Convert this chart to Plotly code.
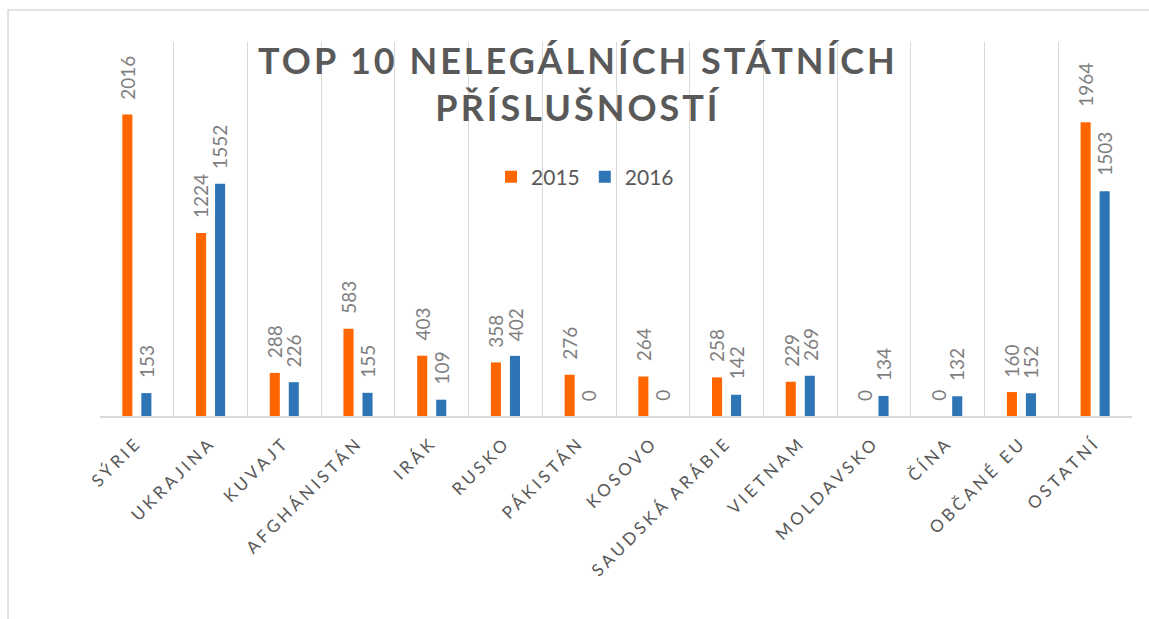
import plotly.graph_objects as go

categories = ["SÝRIE", "UKRAJINA", "KUVAJT", "AFGHÁNISTÁN", "IRÁK", "RUSKO", "PÁKISTÁN",
              "KOSOVO", "SAUDSKÁ ARÁBIE", "VIETNAM", "MOLDAVSKO", "ČÍNA", "OBČANÉ EU", "OSTATNÍ"]
values_2015 = [2016, 1224, 288, 583, 403, 358, 276, 264, 258, 229, 0, 0, 160, 1964]
values_2016 = [153, 1552, 226, 155, 109, 402, 0, 0, 142, 269, 134, 132, 152, 1503]
series_names = ["2015", "2016"]
title_text = "TOP 10 NELEGÁLNÍCH STÁTNÍCH<br>PŘÍSLUŠNOSTÍ"

ORANGE = "#FF6600"
BLUE = "#2E75B6"
FONT = "Lato"

fig = go.Figure()
fig.add_trace(go.Bar(name=series_names[0], x=categories, y=values_2015,
                     marker=dict(color=ORANGE, line=dict(width=0))))
fig.add_trace(go.Bar(name=series_names[1], x=categories, y=values_2016,
                     marker=dict(color=BLUE, line=dict(width=0))))

annotations = []
for vals, xs in ((values_2015, -9.5), (values_2016, 9.5)):
    for c, v in zip(categories, vals):
        annotations.append(dict(x=c, y=v, xref="x", yref="y", text=str(v), showarrow=False,
                                textangle=-90, yanchor="bottom", xanchor="center",
                                xshift=xs, yshift=13,
                                font=dict(family=FONT, size=19, color="#7F7F7F")))

fig.update_layout(
    width=1149, height=619,
    margin=dict(l=100, r=17, t=42, b=203),
    paper_bgcolor="white", plot_bgcolor="white",
    barmode="group", bargap=0.484, bargroupgap=0.47,
    title=dict(text=title_text, x=0.503, xanchor="center", y=0.88, yanchor="middle",
               font=dict(family=FONT, size=36, color="#595959", weight="bold")),
    legend=dict(orientation="h", x=0.47, xanchor="center", y=0.639, yanchor="middle",
                font=dict(family=FONT, size=21, color="#595959"), bgcolor="rgba(0,0,0,0)",
                itemwidth=30, traceorder="normal"),
    xaxis=dict(type="category", tickson="boundaries", showgrid=True, gridcolor="#D9D9D9",
               gridwidth=1, ticks="", showline=True, linecolor="#D9D9D9", linewidth=2,
               tickangle=-45, ticklabelstandoff=8,
               tickfont=dict(family=FONT, size=17, color="#595959")),
    yaxis=dict(range=[0, 2500], visible=False),
    annotations=annotations,
    showlegend=True,
    shapes=[dict(type="rect", xref="paper", yref="paper", x0=-0.0891, x1=1.03,
                 y0=-0.58, y1=1.0856, line=dict(color="#D9D9D9", width=1.5), layer="below")],
)

post = """
document.body.style.margin='0';
var gd = document.getElementById('{plot_id}');
function ls(){
  gd.querySelectorAll('.xtick text').forEach(function(t){t.style.letterSpacing='3.5px';});
  gd.querySelectorAll('.gtitle').forEach(function(t){t.style.letterSpacing='3px';});
}
ls();
gd.on('plotly_afterplot', ls);
"""

fig.write_html("out.html", post_script=post, config={"displayModeBar": False})
